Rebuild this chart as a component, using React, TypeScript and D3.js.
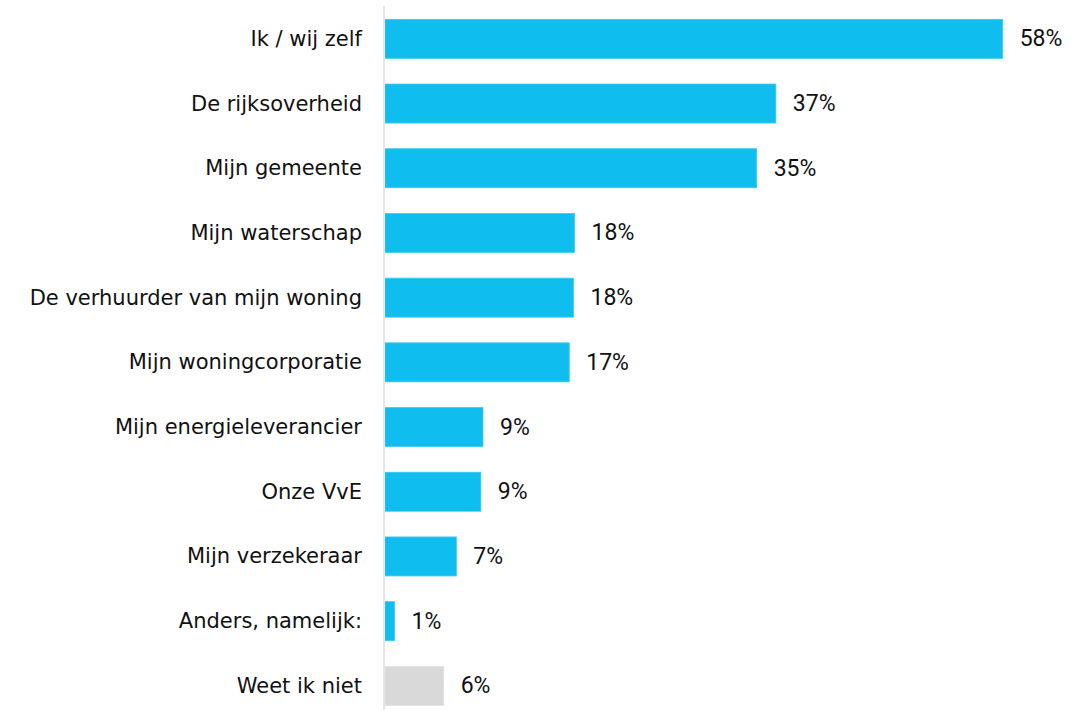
import React from "react";
import * as d3 from "d3";

const categories = [
  "Ik / wij zelf",
  "De rijksoverheid",
  "Mijn gemeente",
  "Mijn waterschap",
  "De verhuurder van mijn woning",
  "Mijn woningcorporatie",
  "Mijn energieleverancier",
  "Onze VvE",
  "Mijn verzekeraar",
  "Anders, namelijk:",
  "Weet ik niet",
];
const values = [58, 36.7, 34.9, 17.8, 17.7, 17.3, 9.2, 9.0, 6.7, 0.9, 5.51];
const valueLabels = ["58%", "37%", "35%", "18%", "18%", "17%", "9%", "9%", "7%", "1%", "6%"];
const greyCategories = ["Weet ik niet"];

const W = 1092;
const H = 710;

export default function App() {
  const x = d3.scaleLinear().domain([0, 58]).range([385, 1002.7]);
  const y = d3
    .scaleBand<string>()
    .domain(categories)
    .range([6.5, 718.2])
    .paddingInner(0.397)
    .paddingOuter(0.1985);
  const bw = y.bandwidth();
  return (
    <svg
      width={W}
      height={H}
      style={{ position: "absolute", left: 0, top: 0, display: "block" }}
    >
      <rect x={0} y={0} width={W} height={H} fill="#ffffff" />
      {categories.map((c, i) => {
        const yy = y(c)!;
        const grey = greyCategories.includes(c);
        return (
          <g key={c}>
            <rect
              x={x(0)}
              y={yy}
              width={x(values[i]) - x(0)}
              height={bw}
              fill={grey ? "#d9d9d9" : "#0fbdee"}
              stroke={grey ? "#e0e0e0" : "#3fcaf2"}
              strokeWidth={0.8}
            />
            <text
              x={x(0) - 23}
              y={yy + bw / 2}
              textAnchor="end"
              dominantBaseline="central"
              fontFamily="'DejaVu Sans', sans-serif"
              fontSize={21}
              fill="#111111"
            >
              {c}
            </text>
            <text
              x={x(values[i]) + 17}
              y={yy + bw / 2}
              dominantBaseline="central"
              fontFamily="Roboto, sans-serif"
              fontSize={23}
              fill="#111111"
            >
              {valueLabels[i]}
            </text>
          </g>
        );
      })}
      <line
        x1={x(0) - 1}
        x2={x(0) - 1}
        y1={6}
        y2={H}
        stroke="#e6e6e6"
        strokeWidth={2}
      />
    </svg>
  );
}
